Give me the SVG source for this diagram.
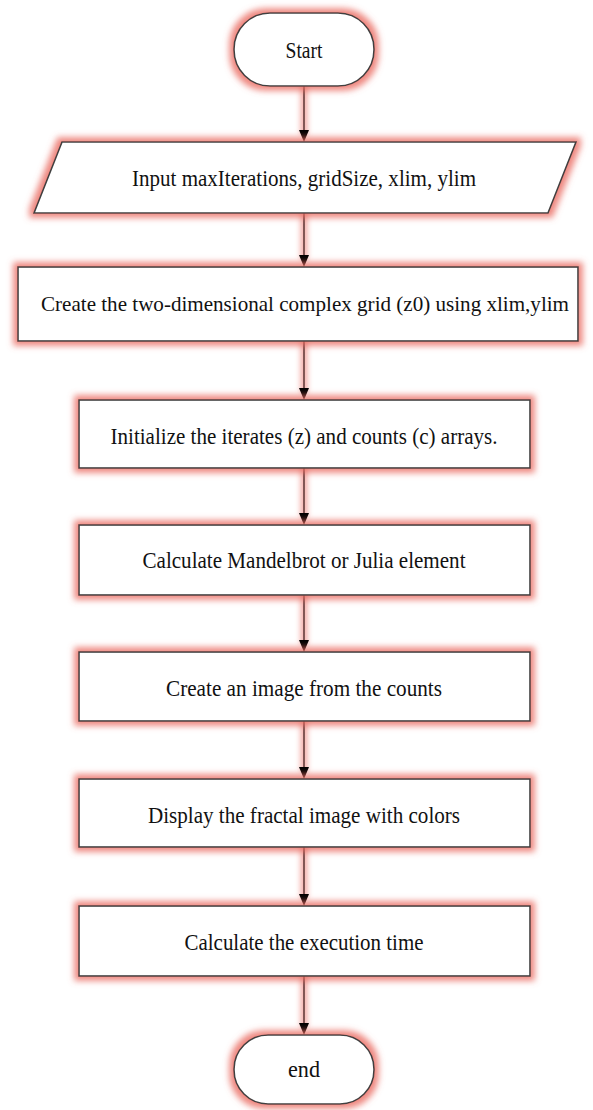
<svg xmlns="http://www.w3.org/2000/svg" width="593" height="1110" viewBox="0 0 593 1110">
<defs>
<filter id="glow" filterUnits="userSpaceOnUse" x="0" y="0" width="593" height="1110">
<feMorphology in="SourceAlpha" operator="dilate" radius="4" result="d"/>
<feGaussianBlur in="d" stdDeviation="3.2" result="b"/>
<feFlood flood-color="#ea6a60" flood-opacity="0.8"/>
<feComposite in2="b" operator="in" result="g"/>
<feMerge><feMergeNode in="g"/><feMergeNode in="SourceGraphic"/></feMerge>
</filter>
<filter id="lglow" filterUnits="userSpaceOnUse" x="0" y="0" width="593" height="1110">
<feMorphology in="SourceAlpha" operator="dilate" radius="2.5" result="d"/>
<feGaussianBlur in="d" stdDeviation="2.5" result="b"/>
<feFlood flood-color="#ea6a60" flood-opacity="0.7"/>
<feComposite in2="b" operator="in" result="g"/>
<feMerge><feMergeNode in="g"/><feMergeNode in="SourceGraphic"/></feMerge>
</filter>
</defs>
<style>
.shape{fill:#fff;stroke:#404040;stroke-width:1.6;filter:url(#glow)}
.lbl{font-family:"Liberation Serif","Times New Roman",serif;font-size:23px;fill:#111;text-anchor:middle;dominant-baseline:central}
.sm{font-size:21px}
.conn{stroke:#222;stroke-width:1.4;fill:none;filter:url(#lglow)}
.head{fill:#000}
</style>
<rect width="593" height="1110" fill="#fff"/>
<g id="connectors">
<line class="conn" x1="304" y1="86" x2="304" y2="132"/>
<line class="conn" x1="304" y1="213" x2="304" y2="257"/>
<line class="conn" x1="304" y1="341" x2="304" y2="390"/>
<line class="conn" x1="304" y1="468" x2="304" y2="515"/>
<line class="conn" x1="304" y1="595" x2="304" y2="642"/>
<line class="conn" x1="304" y1="721" x2="304" y2="769"/>
<line class="conn" x1="304" y1="847" x2="304" y2="896"/>
<line class="conn" x1="304" y1="976" x2="304" y2="1025"/>
<path class="head" d="M299,130 L309,130 L304,142 Z"/>
<path class="head" d="M299,255 L309,255 L304,267 Z"/>
<path class="head" d="M299,388 L309,388 L304,400 Z"/>
<path class="head" d="M299,513 L309,513 L304,525 Z"/>
<path class="head" d="M299,640 L309,640 L304,652 Z"/>
<path class="head" d="M299,767 L309,767 L304,779 Z"/>
<path class="head" d="M299,894 L309,894 L304,906 Z"/>
<path class="head" d="M299,1023 L309,1023 L304,1035 Z"/>
</g>
<g id="start">
<rect class="shape" x="234" y="13" width="140" height="73" rx="36" ry="36"/>
<text class="lbl" x="304" y="50" textLength="37" lengthAdjust="spacingAndGlyphs">Start</text>
</g>
<g id="input">
<polygon class="shape" points="62,142 576,142 548,213 34,213"/>
<text class="lbl" x="304" y="178" textLength="344" lengthAdjust="spacingAndGlyphs">Input maxIterations, gridSize, xlim, ylim</text>
</g>
<g id="grid">
<rect class="shape" x="18" y="267" width="560" height="74"/>
<text class="lbl sm" x="305" y="304" textLength="528" lengthAdjust="spacingAndGlyphs">Create the two-dimensional complex grid (z0) using xlim,ylim</text>
</g>
<g id="init">
<rect class="shape" x="79" y="400" width="451" height="68"/>
<text class="lbl" x="304" y="436" textLength="387" lengthAdjust="spacingAndGlyphs">Initialize the iterates (z) and counts (c) arrays.</text>
</g>
<g id="calc">
<rect class="shape" x="79" y="525" width="451" height="70"/>
<text class="lbl" x="304" y="560" textLength="323" lengthAdjust="spacingAndGlyphs">Calculate Mandelbrot or Julia element</text>
</g>
<g id="image">
<rect class="shape" x="79" y="652" width="451" height="69"/>
<text class="lbl" x="304" y="688" textLength="276" lengthAdjust="spacingAndGlyphs">Create an image from the counts</text>
</g>
<g id="display">
<rect class="shape" x="79" y="779" width="451" height="68"/>
<text class="lbl" x="304" y="815" textLength="312" lengthAdjust="spacingAndGlyphs">Display the fractal image with colors</text>
</g>
<g id="time">
<rect class="shape" x="79" y="906" width="451" height="70"/>
<text class="lbl" x="304" y="942" textLength="239" lengthAdjust="spacingAndGlyphs">Calculate the execution time</text>
</g>
<g id="end">
<rect class="shape" x="234" y="1035" width="140" height="69" rx="34" ry="34"/>
<text class="lbl" x="304" y="1069" textLength="32" lengthAdjust="spacingAndGlyphs">end</text>
</g>
</svg>
